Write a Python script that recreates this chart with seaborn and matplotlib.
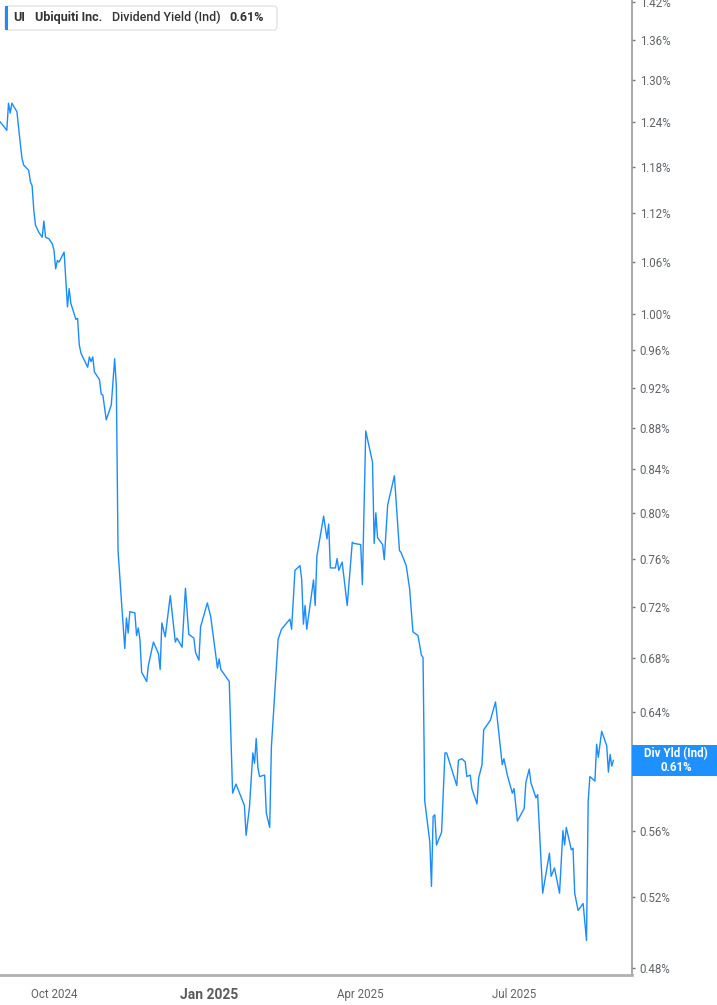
import pandas as pd
import numpy as np
import matplotlib.pyplot as plt
import matplotlib.ticker as mticker
import matplotlib.dates as mdates
from matplotlib.patches import FancyBboxPatch, Rectangle
import seaborn as sns

# Dividend yield (Ind) of Ubiquiti
dates = [
    '2024-08-30', '2024-09-03', '2024-09-04', '2024-09-05', '2024-09-06', '2024-09-09',
    '2024-09-11', '2024-09-12', '2024-09-13', '2024-09-16', '2024-09-17', '2024-09-18',
    '2024-09-19', '2024-09-20', '2024-09-22', '2024-09-24', '2024-09-25', '2024-09-26',
    '2024-09-28', '2024-09-30', '2024-10-01', '2024-10-02', '2024-10-03', '2024-10-04',
    '2024-10-07', '2024-10-08', '2024-10-09', '2024-10-10', '2024-10-11', '2024-10-14',
    '2024-10-15', '2024-10-16', '2024-10-17', '2024-10-21', '2024-10-22', '2024-10-23',
    '2024-10-24', '2024-10-25', '2024-10-28', '2024-10-29', '2024-10-30', '2024-11-01',
    '2024-11-04', '2024-11-06', '2024-11-07', '2024-11-08', '2024-11-10', '2024-11-12',
    '2024-11-13', '2024-11-14', '2024-11-15', '2024-11-18', '2024-11-19', '2024-11-20',
    '2024-11-21', '2024-11-22', '2024-11-25', '2024-11-26', '2024-11-29', '2024-12-02',
    '2024-12-03', '2024-12-04', '2024-12-06', '2024-12-09', '2024-12-12', '2024-12-13',
    '2024-12-16', '2024-12-18', '2024-12-20', '2024-12-23', '2024-12-24', '2024-12-26',
    '2024-12-27', '2024-12-31', '2025-01-02', '2025-01-06', '2025-01-07', '2025-01-08',
    '2025-01-13', '2025-01-15', '2025-01-17', '2025-01-22', '2025-01-23', '2025-01-25',
    '2025-01-27', '2025-01-28', '2025-01-29', '2025-01-30', '2025-01-31', '2025-02-03',
    '2025-02-04', '2025-02-06', '2025-02-07', '2025-02-09', '2025-02-11', '2025-02-12',
    '2025-02-13', '2025-02-18', '2025-02-19', '2025-02-21', '2025-02-24', '2025-02-25',
    '2025-02-26', '2025-02-27', '2025-02-28', '2025-03-04', '2025-03-05', '2025-03-06',
    '2025-03-10', '2025-03-12', '2025-03-13', '2025-03-14', '2025-03-17', '2025-03-18',
    '2025-03-19', '2025-03-21', '2025-03-24', '2025-03-27', '2025-03-28', '2025-04-01',
    '2025-04-02', '2025-04-04', '2025-04-08', '2025-04-09', '2025-04-10', '2025-04-11',
    '2025-04-14', '2025-04-15', '2025-04-17', '2025-04-21', '2025-04-24', '2025-04-25',
    '2025-04-28', '2025-04-30', '2025-05-02', '2025-05-05', '2025-05-07', '2025-05-08',
    '2025-05-09', '2025-05-12', '2025-05-13', '2025-05-14', '2025-05-15', '2025-05-16',
    '2025-05-19', '2025-05-21', '2025-05-22', '2025-05-28', '2025-05-29', '2025-05-31',
    '2025-06-02', '2025-06-03', '2025-06-05', '2025-06-06', '2025-06-09', '2025-06-10',
    '2025-06-12', '2025-06-13', '2025-06-17', '2025-06-20', '2025-06-24', '2025-06-25',
    '2025-06-27', '2025-06-30', '2025-07-01', '2025-07-03', '2025-07-07', '2025-07-08',
    '2025-07-10', '2025-07-11', '2025-07-14', '2025-07-15', '2025-07-18', '2025-07-22',
    '2025-07-23', '2025-07-25', '2025-07-28', '2025-07-30', '2025-07-31', '2025-08-01',
    '2025-08-04', '2025-08-05', '2025-08-06', '2025-08-08', '2025-08-11', '2025-08-13',
    '2025-08-14', '2025-08-15', '2025-08-18', '2025-08-19', '2025-08-20', '2025-08-22',
    '2025-08-25', '2025-08-26', '2025-08-27', '2025-08-28', '2025-08-29',
]
yield_pct = [
    1.241, 1.229, 1.267, 1.253, 1.267, 1.255,
    1.211, 1.191, 1.182, 1.175, 1.160, 1.155,
    1.124, 1.105, 1.096, 1.090, 1.110, 1.090,
    1.088, 1.082, 1.074, 1.052, 1.062, 1.060,
    1.072, 1.039, 1.008, 1.029, 1.012, 0.994,
    0.995, 0.966, 0.957, 0.942, 0.953, 0.948,
    0.953, 0.937, 0.929, 0.914, 0.913, 0.888,
    0.903, 0.951, 0.922, 0.767, 0.725, 0.687,
    0.711, 0.699, 0.716, 0.715, 0.697, 0.703,
    0.694, 0.669, 0.662, 0.674, 0.692, 0.683,
    0.671, 0.707, 0.696, 0.729, 0.692, 0.695,
    0.688, 0.735, 0.698, 0.695, 0.684, 0.678,
    0.704, 0.723, 0.712, 0.672, 0.679, 0.671,
    0.662, 0.584, 0.590, 0.576, 0.557, 0.575,
    0.611, 0.604, 0.621, 0.601, 0.595, 0.596,
    0.571, 0.562, 0.615, 0.653, 0.694, 0.698,
    0.702, 0.710, 0.702, 0.750, 0.754, 0.742,
    0.706, 0.721, 0.702, 0.742, 0.721, 0.762,
    0.797, 0.777, 0.790, 0.752, 0.752, 0.760,
    0.750, 0.757, 0.721, 0.774, 0.773, 0.772,
    0.738, 0.877, 0.847, 0.773, 0.800, 0.778,
    0.772, 0.759, 0.807, 0.834, 0.767, 0.765,
    0.754, 0.735, 0.700, 0.697, 0.682, 0.680,
    0.579, 0.553, 0.526, 0.569, 0.570, 0.551,
    0.559, 0.611, 0.611, 0.589, 0.606, 0.607,
    0.605, 0.595, 0.596, 0.587, 0.577, 0.594,
    0.603, 0.627, 0.634, 0.647, 0.603, 0.607,
    0.596, 0.584, 0.587, 0.566, 0.574, 0.591,
    0.600, 0.591, 0.581, 0.583, 0.522, 0.546,
    0.532, 0.537, 0.522, 0.560, 0.551, 0.562,
    0.548, 0.549, 0.522, 0.512, 0.516, 0.495,
    0.579, 0.595, 0.592, 0.617, 0.608, 0.626,
    0.616, 0.598, 0.610, 0.602, 0.606,
]
y_ticks = [0.48, 0.52, 0.56, 0.60, 0.64, 0.68, 0.72, 0.76, 0.80, 0.84, 0.88,
           0.92, 0.96, 1.00, 1.06, 1.12, 1.18, 1.24, 1.30, 1.36, 1.42]
x_ticks = ['2024-10-01', '2025-01-01', '2025-04-01', '2025-07-01']
x_labels = ['Oct 2024', 'Jan 2025', 'Apr 2025', 'Jul 2025']

last_value = '0.61%'
line_color = '#1a8cff'
text_gray = '#5f6368'

df = pd.DataFrame({'date': pd.to_datetime(dates), 'yield': yield_pct})

sns.set_theme(style='white')
plt.rcParams['font.family'] = ['Roboto', 'DejaVu Sans']

fig = plt.figure(figsize=(7.17, 10.05), dpi=100)
ax = fig.add_axes([0, 30 / 1005, 632 / 717, 975 / 1005])

sns.lineplot(data=df, x='date', y='yield', ax=ax, color=line_color, linewidth=1.0)

ax.set_yscale('log')
ax.set_ylim(0.4762, 1.4226)
ax.set_xlim(pd.Timestamp('2024-08-29 23:00'), pd.Timestamp('2025-09-09'))

ax.yaxis.tick_right()
ax.yaxis.set_major_locator(mticker.FixedLocator(y_ticks))
ax.yaxis.set_minor_locator(mticker.NullLocator())
ax.set_yticklabels([f'{t:.2f}%' for t in y_ticks])
ax.tick_params(axis='y', which='major', direction='out', length=2.5, width=1,
               color='#777777', labelsize=8.3, labelcolor=text_gray, pad=3)

ax.set_xticks(pd.to_datetime(x_ticks))
ax.set_xticklabels(x_labels)
ax.tick_params(axis='x', direction='out', length=4, width=1, color='#aaaaaa',
               labelsize=8.3, labelcolor=text_gray, pad=5)
for lbl in ax.get_xticklabels():
    if lbl.get_text() == 'Jan 2025':
        lbl.set_fontweight('bold')
        lbl.set_fontsize(10)
        lbl.set_color('#5a5a5a')

ax.set_xlabel('')
ax.set_ylabel('')
for side in ['top', 'left']:
    ax.spines[side].set_visible(False)
ax.spines['right'].set_color('#999999')
ax.spines['right'].set_linewidth(1.2)
ax.spines['bottom'].set_color('#b0b0b0')
ax.spines['bottom'].set_linewidth(2)

# legend box at the top left
fig.patches.append(FancyBboxPatch((5 / 717, 1 - 30 / 1005), 272 / 717, 24 / 1005,
                                  boxstyle='round,pad=0,rounding_size=0.004',
                                  transform=fig.transFigure, facecolor='white',
                                  edgecolor='#e3e3e3', linewidth=1, zorder=5))
fig.patches.append(Rectangle((5 / 717, 1 - 30 / 1005), 3 / 717, 24 / 1005,
                             transform=fig.transFigure, facecolor=line_color,
                             edgecolor='none', zorder=6))
ty = 1 - 17.5 / 1005
fig.text(13 / 717, ty, 'UI', fontsize=9, fontweight='bold', color='#333333',
         va='center', zorder=7)
fig.text(35 / 717, ty, 'Ubiquiti Inc.', fontsize=9, fontweight='bold', color='#333333',
         va='center', zorder=7)
fig.text(112 / 717, ty, 'Dividend Yield (Ind)', fontsize=9, fontweight='medium',
         color='#333333', va='center', zorder=7)
fig.text(229 / 717, ty, last_value, fontsize=9, fontweight='bold', color='#333333',
         va='center', zorder=7)

# current value box on the right axis
fig.patches.append(Rectangle((632 / 717, 1 - 776 / 1005), 85 / 717, 31 / 1005,
                             transform=fig.transFigure, facecolor='#1e90ff',
                             edgecolor='none', zorder=8))
fig.text(676 / 717, 1 - 754 / 1005, 'Div Yld (Ind)', fontsize=8.3, fontweight='bold',
         color='white', ha='center', va='center', zorder=9)
fig.text(676 / 717, 1 - 767 / 1005, last_value, fontsize=8.3, fontweight='bold',
         color='white', ha='center', va='center', zorder=9)

fig.savefig('out.png', dpi=100)
